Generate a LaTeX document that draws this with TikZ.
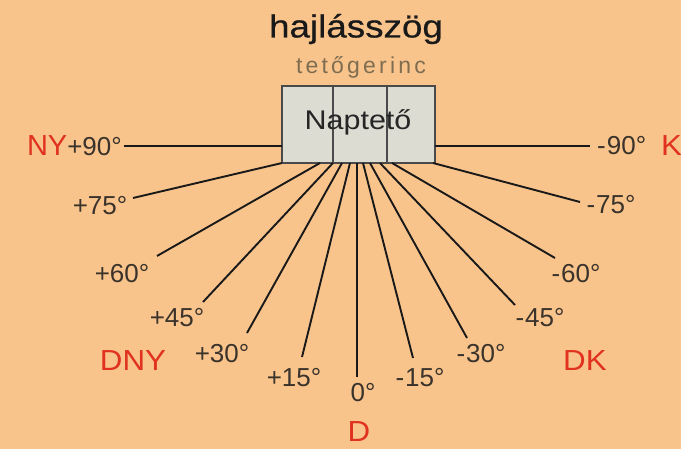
\documentclass[tikz,border=0pt]{standalone}
\usepackage{fontspec}
\setmainfont{Liberation Sans}
\definecolor{bg}{HTML}{F9C48C}
\definecolor{boxfill}{HTML}{DCDCD2}
\definecolor{boxline}{HTML}{4A4A4A}
\definecolor{labelc}{HTML}{3A332B}
\definecolor{redc}{HTML}{E0321E}
\definecolor{ridgec}{HTML}{7E6D50}
\begin{document}
\begin{tikzpicture}[x=1pt,y=-1pt,
  lbl/.style={text=labelc, font=\fontsize{26}{26}\selectfont, inner sep=0pt},
  dir/.style={text=redc, font=\fontsize{29}{29}\selectfont\addfontfeature{FakeStretch=1.08}, inner sep=0pt},
  ray/.style={draw=black!90, line width=1.9pt},
  panel/.style={draw=boxline, line width=1.6pt, fill=boxfill}]
\fill[bg] (0,0) rectangle (681,449);
\useasboundingbox (0,0) rectangle (681,449);
% title
\node[inner sep=0pt, text=black!90, font=\fontsize{32}{32}\selectfont\addfontfeature{FakeStretch=1.15,FakeBold=0.6}] (title) at (356,29) {hajlásszög};
\node[inner sep=0pt, text=ridgec, font=\fontsize{23}{23}\selectfont\addfontfeature{LetterSpace=14}] (ridge) at (361,67) {tetőgerinc};
% panel
\draw[panel] (282,86) rectangle (435,163);
\draw[boxline, line width=1.6pt] (333,86) -- (333,163) (387,86) -- (387,163);
\node[inner sep=0pt, text=black!85, font=\fontsize{27}{27}\selectfont\addfontfeature{FakeStretch=1.13}] (napteto) at (358,122) {Naptető};
% horizontal lines
\coordinate (lw) at (282,146);
\coordinate (le) at (435,146);
\node[lbl, anchor=east] (p90) at (122,146) {\textcolor{redc}{\fontsize{29}{29}\selectfont NY}+90°};
\node[lbl, anchor=west] (m90) at (597,146) {-{\kern1pt}90°};
\node[dir, anchor=west] (K) at (661,146) {K};
\draw[ray] (p90.east) ++(2,0) -- (lw);
\draw[ray] (le) -- ([xshift=-7pt]m90.west);
% ray start points on the bottom of the panel
\coordinate (s75) at (282,163);
\coordinate (s60) at (320,163);
\coordinate (s45) at (333,163);
\coordinate (s30) at (342,163);
\coordinate (s15) at (350,163);
\coordinate (s0)  at (357,163);
\coordinate (t15) at (363,163);
\coordinate (t30) at (370,163);
\coordinate (t45) at (380,163);
\coordinate (t60) at (392,163);
\coordinate (t75) at (433,163);
% ray end points
\coordinate (e75) at (133,198);
\coordinate (e60) at (157,256);
\coordinate (e45) at (203,302);
\coordinate (e30) at (247,333);
\coordinate (e15) at (302,357);
\coordinate (e0)  at (357,377);
\coordinate (f15) at (413,358);
\coordinate (f30) at (467,338);
\coordinate (f45) at (515,305);
\coordinate (f60) at (555,258);
\coordinate (f75) at (580,202);
\foreach \a/\b in {s75/e75,s60/e60,s45/e45,s30/e30,s15/e15,s0/e0,t15/f15,t30/f30,t45/f45,t60/f60,t75/f75}
  \draw[ray] (\a) -- (\b);
% labels
\node[lbl] (l75) at (100,206) {+75°};
\node[lbl] (l60) at (122,274) {+60°};
\node[lbl] (l45) at (177,318) {+45°};
\node[lbl] (l30) at (222,354) {+30°};
\node[lbl] (l15) at (294,378) {+15°};
\node[lbl] (l0)  at (363,393) {0°};
\node[lbl] (r15) at (420,378) {-{\kern1pt}15°};
\node[lbl] (r30) at (481,354) {-{\kern1pt}30°};
\node[lbl] (r45) at (540,318) {-{\kern1pt}45°};
\node[lbl] (r60) at (576,274) {-{\kern1pt}60°};
\node[lbl] (r75) at (611,205) {-{\kern1pt}75°};
\node[dir] (DNY) at (133,361) {DNY};
\node[dir] (DK)  at (585,361) {DK};
\node[dir] (D)   at (359,432) {D};
\end{tikzpicture}
\end{document}
